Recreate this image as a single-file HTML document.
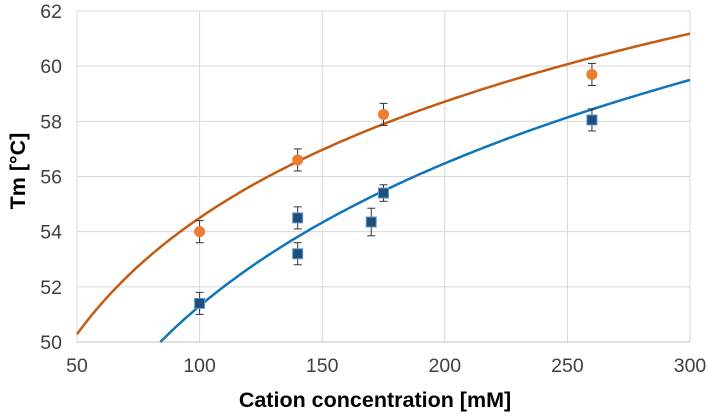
<!DOCTYPE html>
<html><head><meta charset="utf-8"><style>
body{margin:0;background:#fff;}
svg text{font-family:"Liberation Sans",Arial,sans-serif;}
</style></head><body>
<svg id="chart" width="708" height="415" xmlns="http://www.w3.org/2000/svg"></svg>
<script>
const xTicks=[50,100,150,200,250,300];
const yTicks=[50,52,54,56,58,60,62];
const orangeX=[100,140,175,260];
const orangeY=[54.0,56.6,58.25,59.7];
const orangeErr=[0.4,0.4,0.4,0.4];
const blueX=[100,140,140,170,175,260];
const blueY=[51.4,54.5,53.2,54.35,55.4,58.05];
const blueErr=[0.4,0.4,0.4,0.5,0.3,0.4];
const orangeFit=[26.5,6.08]; // a + b*ln(x)
const blueFit=[16.95,7.46];
const L=77,R=690,T=11,B=342;
const sx=v=>L+(v-50)/250*(R-L);
const sy=v=>B-(v-50)/12*(B-T);
const svg=document.getElementById('chart');
const NS='http://www.w3.org/2000/svg';
function mk(tag,attrs,parent){const e=document.createElementNS(NS,tag);for(const k in attrs)e.setAttribute(k,attrs[k]);(parent||svg).appendChild(e);return e;}
xTicks.forEach(t=>{
 const l=mk('line',{x1:sx(t),x2:sx(t),y1:T,y2:B,stroke:'#d9d9d9','stroke-width':1});
 
 
 const tx=mk('text',{x:sx(t),y:372,'text-anchor':'middle','font-size':19.5,fill:'#404040'});tx.textContent=t;
 
 
});
yTicks.forEach(t=>{
 const l=mk('line',{x1:L,x2:R,y1:sy(t),y2:sy(t),stroke:'#d9d9d9','stroke-width':1});
 
 
 const tx=mk('text',{x:62,y:sy(t)+7,'text-anchor':'end','font-size':19.5,fill:'#404040'});tx.textContent=t;
 
 
});
mk('line',{x1:L,x2:R,y1:B,y2:B,stroke:'#bfbfbf','stroke-width':1});
function fitPath(fit,color,name){
 let d='';let started=false;
 for(let x=50;x<=300;x+=1){const y=fit[0]+fit[1]*Math.log(x);if(y<50)continue;d+=(started?'L':'M')+sx(x).toFixed(1)+','+sy(y).toFixed(1);started=true;}
 const p=mk('path',{d:d,fill:'none',stroke:color,'stroke-width':2.5});
 
 
}
fitPath(orangeFit,'#c55a11','orange-fit-line');
fitPath(blueFit,'#0f75bc','blue-fit-line');
function errs(xs,ys,es){xs.forEach((x,i)=>{const cx=sx(x),y1=sy(ys[i]+es[i]),y2=sy(ys[i]-es[i]);
 const g=mk('g',{stroke:'#333','stroke-width':1});
 
 
 mk('line',{x1:cx,x2:cx,y1:y1,y2:y2},g);mk('line',{x1:cx-4,x2:cx+4,y1:y1,y2:y1},g);mk('line',{x1:cx-4,x2:cx+4,y1:y2,y2:y2},g);});}
errs(orangeX,orangeY,orangeErr);errs(blueX,blueY,blueErr);
orangeX.forEach((x,i)=>{const c=mk('circle',{cx:sx(x),cy:sy(orangeY[i]),r:5.5,fill:'#ed7d31'});
 
 });
blueX.forEach((x,i)=>{const r=mk('rect',{x:sx(x)-5,y:sy(blueY[i])-5,width:10,height:10,fill:'#1f4e79',stroke:'#5b9bd5','stroke-width':1});
 
 });
const xt=mk('text',{x:375,y:407,'text-anchor':'middle','font-size':21.5,'font-weight':'bold',fill:'#000'});xt.textContent='Cation concentration [mM]';


const yt=mk('text',{x:0,y:0,'text-anchor':'middle','font-size':21.5,'font-weight':'bold',fill:'#000',transform:'translate(25,171) rotate(-90)'});yt.textContent='Tm [°C]';


</script>
</body></html>
